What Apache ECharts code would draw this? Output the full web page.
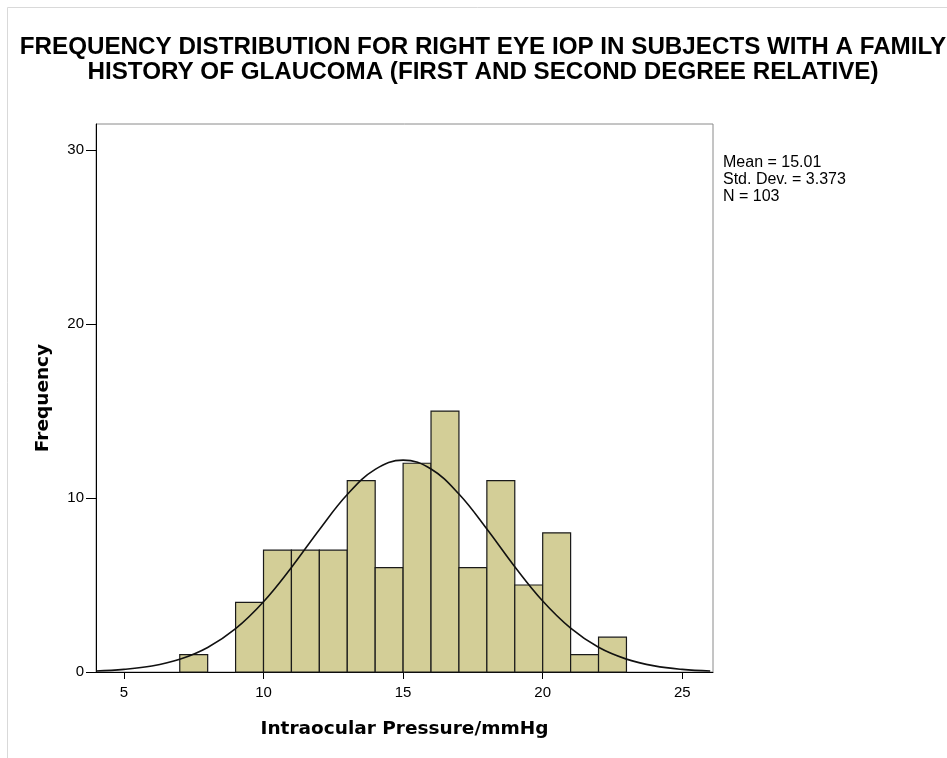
<!DOCTYPE html>
<html>
<head>
<meta charset="utf-8">
<script src="https://cdn.jsdelivr.net/npm/echarts@6/dist/echarts.min.js"></script>
<style>
html,body{margin:0;padding:0;background:#fff;}
#chart{width:947px;height:758px;}
</style>
</head>
<body>
<div id="chart"></div>
<script>
// Histogram bins (lower edge, upper edge) and frequencies
const binStarts = [7, 9, 10, 11, 12, 13, 14, 15, 16, 17, 18, 19, 20, 21, 22];
const binWidth = 1;
const frequencies = [1, 4, 7, 7, 7, 11, 6, 12, 15, 6, 11, 5, 8, 1, 2];
// Normal curve points (x, frequency)
const curveX = [4, 5, 6, 7, 8, 9, 10, 11, 12, 13, 14, 15, 16, 17, 18, 19, 20, 21, 22, 23, 24, 25, 26];
const curveY = [0.06, 0.15, 0.34, 0.73, 1.41, 2.49, 4.04, 6.01, 8.18, 10.2, 11.65, 12.18, 11.67, 10.23, 8.22, 6.05, 4.08, 2.52, 1.42, 0.74, 0.35, 0.15, 0.06];
const xTicks = [5, 10, 15, 20, 25];
const yTicks = [0, 10, 20, 30];
const titleLines = ['FREQUENCY DISTRIBUTION FOR RIGHT EYE IOP IN SUBJECTS WITH A FAMILY', 'HISTORY OF GLAUCOMA (FIRST AND SECOND DEGREE RELATIVE)'];
const statsLines = ['Mean = 15.01', 'Std. Dev. = 3.373', 'N = 103'];

const histData = binStarts.map((s, i) => [s, s + binWidth, frequencies[i]]);
const curveData = curveX.map((x, i) => [x, curveY[i]]);

const chart = echarts.init(document.getElementById('chart'), null, {renderer: 'canvas'});
const option = {
  backgroundColor: '#fff',
  animation: false,
  title: {
    text: titleLines.join('\n'),
    left: 478, top: 30, textAlign: 'center',
    textStyle: {fontFamily: 'Liberation Sans', fontWeight: 'bold', fontSize: 24.2, lineHeight: 25, color: '#000'}
  },
  graphic: [
    {type: 'line', shape: {x1: 7.5, y1: 7.5, x2: 947, y2: 7.5}, style: {stroke: '#d9d9d9', lineWidth: 1}},
    {type: 'line', shape: {x1: 7.5, y1: 7.5, x2: 7.5, y2: 758}, style: {stroke: '#d9d9d9', lineWidth: 1}},
    {type: 'text', left: 723, top: 154, style: {text: statsLines.join('\n'), fontFamily: 'Liberation Sans', fontSize: 16, lineHeight: 17, fill: '#000'}}
  ],
  grid: {left: 96, right: 234, top: 124, bottom: 86, show: true, borderColor: '#8a8a8a', borderWidth: 1, backgroundColor: '#fff'},
  xAxis: {
    type: 'value', min: 4, max: 26.1,
    name: 'Intraocular Pressure/mmHg', nameLocation: 'middle', nameGap: 48,
    nameTextStyle: {fontFamily: 'DejaVu Sans', fontWeight: 'bold', fontSize: 18.5, color: '#000'},
    axisLine: {show: true, onZero: false, lineStyle: {color: '#000', width: 1}},
    axisTick: {show: true, length: 7, customValues: xTicks, lineStyle: {color: '#000'}},
    axisLabel: {customValues: xTicks, fontFamily: 'Liberation Sans', fontSize: 15, color: '#000', margin: 13},
    splitLine: {show: false}
  },
  yAxis: {
    type: 'value', min: 0, max: 31.5,
    name: 'Frequency', nameLocation: 'middle', nameGap: 43, nameRotate: 90,
    nameTextStyle: {fontFamily: 'DejaVu Sans', fontWeight: 'bold', fontSize: 18.5, color: '#000'},
    axisLine: {show: true, lineStyle: {color: '#000', width: 1}},
    axisTick: {show: true, length: 10, customValues: yTicks, lineStyle: {color: '#000'}},
    axisLabel: {customValues: yTicks, fontFamily: 'Liberation Sans', fontSize: 15, color: '#000', margin: 12},
    splitLine: {show: false}
  },
  series: [
    {
      type: 'custom',
      data: histData,
      encode: {x: [0, 1], y: 2},
      renderItem: function (params, api) {
        const p0 = api.coord([api.value(0), api.value(2)]);
        const p1 = api.coord([api.value(1), 0]);
        return {
          type: 'rect',
          shape: {x: p0[0], y: p0[1], width: p1[0] - p0[0], height: p1[1] - p0[1]},
          style: {fill: '#d3ce97', stroke: '#1a1a1a', lineWidth: 1.2}
        };
      },
      z: 2
    },
    {
      type: 'line', data: curveData, smooth: 0.4, symbol: 'none',
      lineStyle: {color: '#111', width: 1.6}, z: 3
    }
  ]
};
chart.setOption(option);
</script>
</body>
</html>
